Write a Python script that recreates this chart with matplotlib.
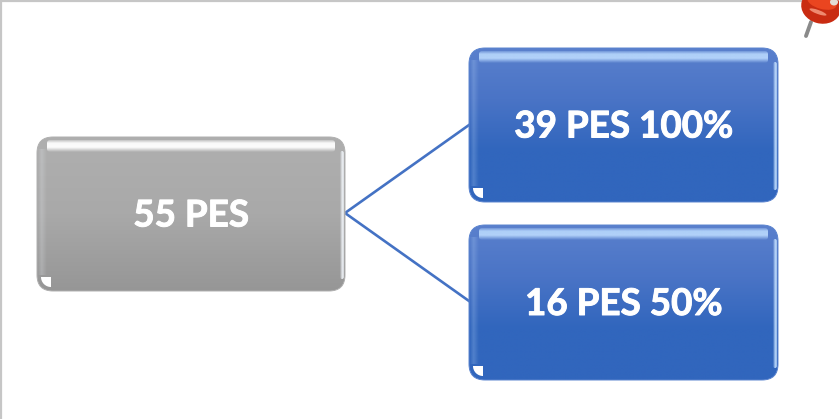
"""
Tree diagram: 55 PES splits into 39 PES 100% and 16 PES 50%.
"""
import numpy as np
import matplotlib
matplotlib.use("Agg")
import matplotlib.pyplot as plt
import matplotlib.patheffects as pe
from matplotlib.colors import LinearSegmentedColormap
from matplotlib.patches import FancyBboxPatch, Ellipse, Rectangle

root_label = "55 PES"
child_labels = ["39 PES 100%", "16 PES 50%"]

W, H = 839, 419


def rounded(x0, y0, x1, y1, r, **kw):
    return FancyBboxPatch((x0 + r, y0 + r), x1 - x0 - 2 * r, y1 - y0 - 2 * r,
                          boxstyle=f"round,pad={r},rounding_size={r}", **kw)


def grad(ax, patch, extent, stops, zorder=2, horizontal=False):
    """Fill a patch with a gradient clipped to it."""
    cmap = LinearSegmentedColormap.from_list("g", stops)
    ramp = np.linspace(0, 1, 256)
    ramp = ramp.reshape(1, -1) if horizontal else ramp.reshape(-1, 1)
    img = ax.imshow(ramp, cmap=cmap, vmin=0, vmax=1, extent=extent, aspect="auto",
                    zorder=zorder, interpolation="bilinear")
    img.set_clip_path(patch)


def draw_box(ax, x0, y0, x1, y1, label, stops, edge, shine, side):
    r = 16
    shape = rounded(x0, y0, x1, y1, r, facecolor="none", edgecolor="none")
    ax.add_patch(shape)
    grad(ax, shape, (x0, x1, y1, y0), stops)
    ax.add_patch(rounded(x0, y0, x1, y1, r, facecolor="none", edgecolor=edge, linewidth=0.7, zorder=6))

    # top shine band, soft on both edges
    band = rounded(x0 + 10, y0 + 3, x1 - 10, y0 + 15, 3, facecolor="none", edgecolor="none")
    ax.add_patch(band)
    grad(ax, band, (x0 + 10, x1 - 10, y0 + 15, y0 + 3),
         [(0.0, shine + "40"), (0.25, shine + "f0"), (0.6, shine + "f8"), (1.0, shine + "00")], zorder=3)

    # right edge highlight, soft towards the inside
    right = rounded(x1 - 5, y0 + 14, x1 - 1, y1 - 12, 2, facecolor="none", edgecolor="none")
    ax.add_patch(right)
    grad(ax, right, (x1 - 5, x1 - 1, y1 - 12, y0 + 14),
         [(0.0, side + "00"), (0.6, side + "f0"), (1.0, side + "a0")], zorder=4, horizontal=True)

    # faint left edge highlight
    left = Rectangle((x0 + 1, y0 + 12), 9, y1 - y0 - 28, facecolor="none", edgecolor="none")
    ax.add_patch(left)
    grad(ax, left, (x0 + 1, x0 + 10, y1 - 16, y0 + 12),
         [(0.0, side + "00"), (0.4, side + "38"), (1.0, side + "00")], zorder=3, horizontal=True)

    # corner glint at the bottom left
    clip = Rectangle((x0 + 3, y1 - 14), 11, 10, facecolor="none", edgecolor="none")
    ax.add_patch(clip)
    glint = Ellipse((x0 + 14, y1 - 14), 20, 20, facecolor="white", edgecolor="none", zorder=4)
    ax.add_patch(glint)
    glint.set_clip_path(clip)

    ax.text((x0 + x1) / 2, (y0 + y1) / 2 + 2, label, color="white", fontsize=26.5, fontweight="bold",
            family="Lato", ha="center", va="center", zorder=7,
            path_effects=[pe.withStroke(linewidth=0.7, foreground="white")])


def draw_pin(ax):
    ax.plot([811, 806], [22, 36], color="#8a8a8a", linewidth=2.8, solid_capstyle="round", zorder=3)
    ax.add_patch(Ellipse((821, 7), 40, 33, angle=15, facecolor="#c92c12", edgecolor="none", zorder=4))
    ax.add_patch(Ellipse((822, 2), 30, 14, angle=15, facecolor="#ea4520", edgecolor="none", zorder=5))
    ax.add_patch(Ellipse((818, 12), 18, 4, angle=20, facecolor="#ee8a70", edgecolor="none", zorder=6))
    ax.add_patch(Ellipse((834, 2), 8, 7, facecolor="#e3dcd4", edgecolor="none", zorder=6))


def main():
    fig = plt.figure(figsize=(W / 100, H / 100), dpi=100)
    ax = fig.add_axes([0, 0, 1, 1])
    ax.axis("off")

    # slide frame
    ax.plot([1, 1], [H, 1], color="#c6c6c6", linewidth=1.6, zorder=1)
    ax.plot([1, W], [1, 1], color="#c6c6c6", linewidth=1.6, zorder=1)

    # connectors
    ax.plot([469, 345, 469], [125, 213, 301], color="#4472c4", linewidth=1.9, zorder=1,
            solid_joinstyle="miter")

    grey = ["#afafaf", "#a9a9a9", "#969696"]
    blue = ["#5a80cd", "#4a74c6", "#3166bd", "#3166bd"]
    draw_box(ax, 37, 137, 345, 291, root_label, grey, "#b0b0b0", "#ffffff", "#f2f6fb")
    draw_box(ax, 469, 48, 778, 202, child_labels[0], blue, "#5b84cf", "#b5d5fb", "#c6e2ff")
    draw_box(ax, 469, 225, 778, 380, child_labels[1], blue, "#5b84cf", "#b5d5fb", "#c6e2ff")

    draw_pin(ax)

    ax.set_xlim(0, W)
    ax.set_ylim(H, 0)
    fig.savefig("out.png", dpi=100, facecolor="white")


if __name__ == "__main__":
    main()
